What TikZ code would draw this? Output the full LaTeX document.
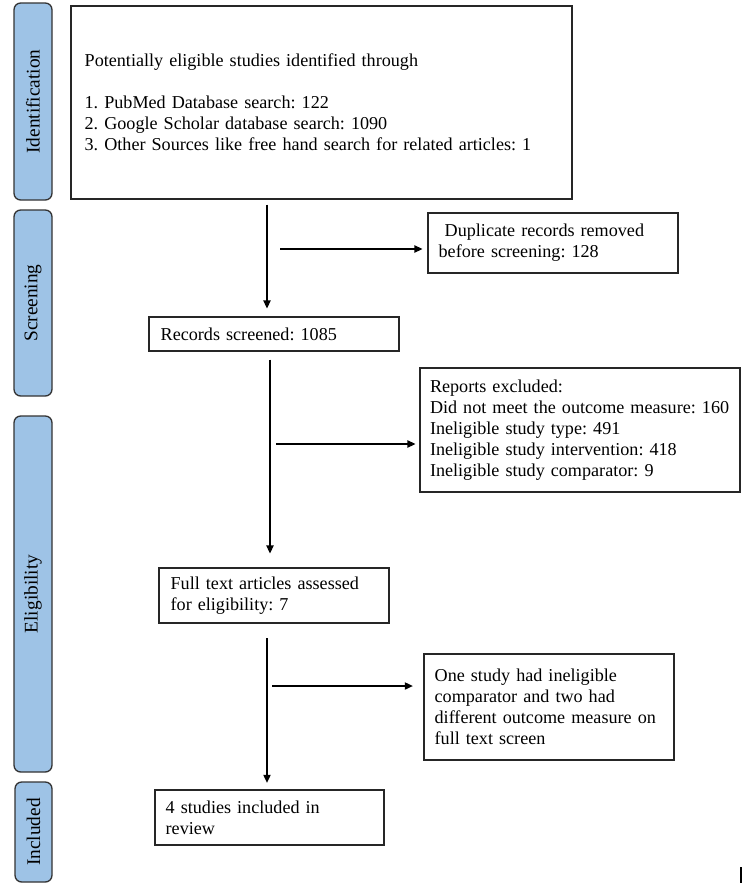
\documentclass[tikz,border=0pt]{standalone}
\usepackage{fontspec}
\setmainfont{Liberation Serif}
\usetikzlibrary{arrows.meta}
\definecolor{phaseblue}{RGB}{158,195,230}

\begin{document}
\begin{tikzpicture}[x=0.75pt, y=-0.75pt,
	font=\fontsize{13.6}{15.75}\selectfont\frenchspacing,
	box/.style={draw=black!85, line width=0.8pt, align=left, inner ysep=0pt},
	phase/.style={draw=black!80, line width=1pt, fill=phaseblue, rounded corners=5pt,
		rotate=90, inner sep=0pt, minimum height=28.5pt, font=\fontsize{14.5}{16}\selectfont},
	flow/.style={line width=0.8pt, -{Triangle[length=6pt, width=5.5pt]}}]
\useasboundingbox (0,0) rectangle (750,886);
	% phases on the left
	\node[phase, minimum width=147.75pt] (pid) at (33,101.5) {Identification};
	\node[phase, minimum width=139.5pt] (pscr) at (33,303) {Screening};
	\node[phase, minimum width=267pt] (pelig) at (33,594) {Eligibility};
	\node[phase, minimum width=75pt, minimum height=27.75pt] (pinc) at (33.5,832) {Included};
	% main boxes
	\node[box, text width=355.25pt, inner xsep=10.25pt, minimum height=144.75pt] (id) at (321.5,102.5)
		{Potentially eligible studies identified through\\[15.75pt]
		1. PubMed Database search: 122\\
		2. Google Scholar database search: 1090\\
		3. Other Sources like free hand search for related articles: 1};
	\node[box, text width=170pt, inner xsep=8.75pt, minimum height=25.5pt] (rec) at (274,334)
		{Records screened: 1085};
	\node[box, text width=155pt, inner xsep=8.75pt, minimum height=41.25pt] (full) at (274,595.5)
		{Full text articles assessed\\for eligibility: 7};
	\node[box, text width=155.75pt, inner xsep=8pt, minimum height=41.25pt] (inc) at (269.5,817.5)
		{4 studies included in\\review};
	% excluded boxes
	\node[box, text width=171.5pt, inner xsep=8pt, minimum height=45pt] (dup) at (553,243)
		{\ Duplicate records removed\\before screening: 128};
	\node[box, text width=225pt, inner xsep=7.5pt, minimum height=93pt] (rep) at (580,430)
		{Reports excluded:\\
		Did not meet the outcome measure: 160\\
		Ineligible study type: 491\\
		Ineligible study intervention: 418\\
		Ineligible study comparator: 9};
	\node[box, text width=171.5pt, inner xsep=8pt, minimum height=79.5pt] (exc) at (549,707)
		{One study had ineligible\\comparator and two had\\different outcome measure on\\full text screen};
	% spine and side arrows
	\coordinate (s1) at (267,0);
	\coordinate (s2) at (270,0);
	\coordinate (h1) at (280,249);
	\coordinate (h2) at (276,444);
	\coordinate (h3) at (272,686);
	\draw[flow, shorten <=3.75pt, shorten >=6pt] (id.south -| s1) -- (rec.north -| s1);
	\draw[flow, shorten <=6pt, shorten >=10.5pt] (rec.south -| s2) -- (full.north -| s2);
	\draw[flow, shorten <=11pt, shorten >=5pt] (full.south -| s1) -- (inc.north -| s1);
	\draw[flow, shorten >=3.75pt] (h1) -- (h1 -| dup.west);
	\draw[flow, shorten >=3pt] (h2) -- (h2 -| rep.west);
	\draw[flow, shorten >=8pt] (h3) -- (h3 -| exc.west);
	\draw[line width=0.8pt] (741,867) -- (741,883);
\end{tikzpicture}
\end{document}
